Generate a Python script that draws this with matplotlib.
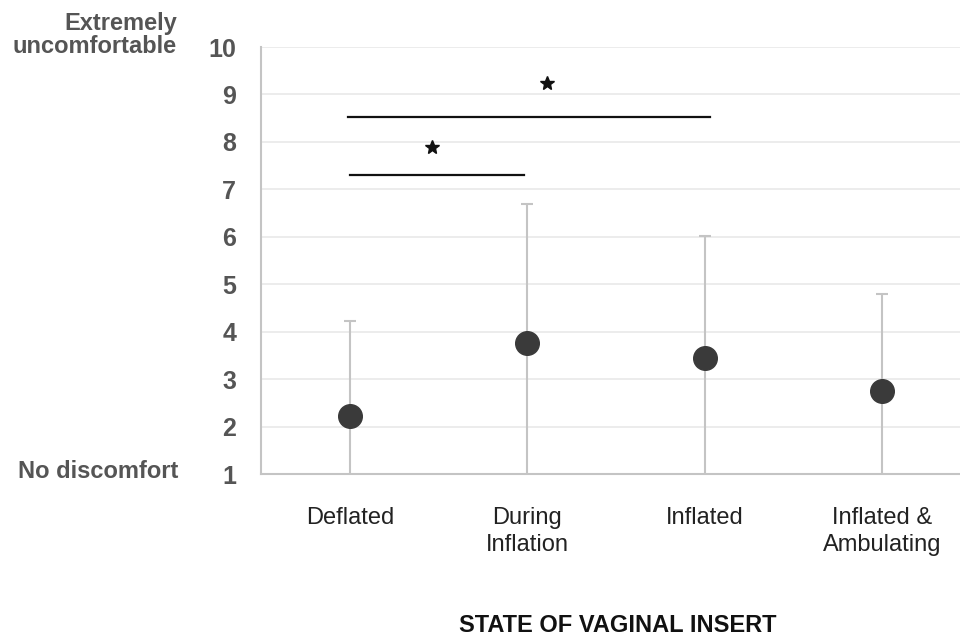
import numpy as np
import matplotlib
matplotlib.use("Agg")
import matplotlib.pyplot as plt

plt.rcParams['font.family'] = ['Liberation Sans', 'DejaVu Sans']

# data
states = ["Deflated", "During\nInflation", "Inflated", "Inflated &\nAmbulating"]
means = [2.22, 3.77, 3.45, 2.75]
upper = [4.23, 6.70, 6.02, 4.80]
yticks = list(range(1, 11))

# significance brackets: (from, to, height), stars: (x, y)
sig_from = [0.0, -0.01]
sig_to = [0.98, 2.03]
sig_y = [7.31, 8.53]
star_x = [0.46, 1.11]
star_y = [7.89, 9.25]

err = np.array(upper) - np.array(means)
x = np.arange(len(states))

fig = plt.figure(figsize=(9.6, 6.36), dpi=100)
ax = fig.add_axes([0.2722, 0.2547, 0.7278, 0.6714])

ax.errorbar(x, means, yerr=err, fmt='none', ecolor='#c4c4c4',
            elinewidth=1.5, capsize=4, capthick=1.5, zorder=2)
ax.plot(x, means, 'o', color='#3a3a3a', markersize=17, zorder=3)

for a, b, h in zip(sig_from, sig_to, sig_y):
    ax.plot([a, b], [h, h], color='#111111', lw=1.6, zorder=4)
ax.plot(star_x, star_y, '*', color='#111111', markersize=10, zorder=4)

ax.set_xlim(-0.5, 3.44)
ax.set_ylim(1, 10)
ax.set_yticks(yticks)
ax.set_xticks(x)
ax.set_xticklabels(states, fontsize=17, color='#222222', linespacing=1.25)
ax.tick_params(axis='x', length=0, pad=24)
ax.tick_params(axis='y', length=0, pad=18, labelsize=18, labelcolor='#555555')
for lab in ax.get_yticklabels():
    lab.set_fontweight('bold')

ax.yaxis.grid(True, color='#e9e9e9', lw=1.2)
ax.set_axisbelow(True)
for s in ['top', 'right']:
    ax.spines[s].set_visible(False)
for s in ['left', 'bottom']:
    ax.spines[s].set_color('#c4c4c4')
    ax.spines[s].set_linewidth(1.5)

fig.text(177 / 960, 1 - 35 / 636, "Extremely\nuncomfortable", ha='right',
         va='center', fontsize=17, fontweight='bold', color='#555555',
         linespacing=1.05)
fig.text(178 / 960, 1 - 471 / 636, "No discomfort", ha='right', va='center',
         fontsize=17, fontweight='bold', color='#555555')
fig.text(618 / 960, 1 - 626 / 636, "STATE OF VAGINAL INSERT", ha='center',
         va='center', fontsize=17, fontweight='bold', color='#111111')

fig.savefig("out.png", dpi=100)
